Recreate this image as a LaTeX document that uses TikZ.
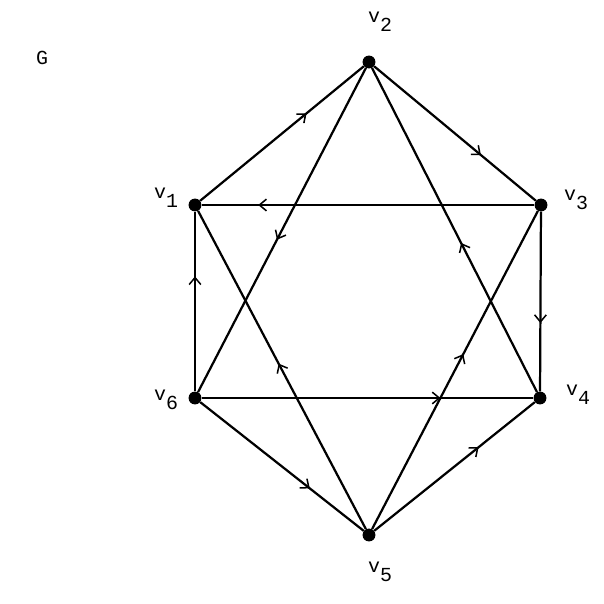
\documentclass[tikz,border=0pt]{standalone}
\usepackage{fontspec}
\setmonofont{Liberation Mono}
\usetikzlibrary{arrows.meta,decorations.markings}
\tikzset{
  vtx/.style={circle,fill=black,inner sep=0pt,minimum size=11pt},
  lbl/.style={font=\ttfamily\fontsize{17}{19}\selectfont,inner sep=0pt},
  edge/.style={line width=1.9pt},
  midarr/.style={postaction={decorate},decoration={markings,
    mark=at position #1 with {\arrow{Straight Barb[length=6pt,width=10pt,line width=1.3pt]}}}}
}
\begin{document}
\begin{tikzpicture}[x=0.03cm,y=-0.03cm]
\useasboundingbox (0,0) rectangle (603,604);
\node[vtx] (v2) at (369,62) {};
\node[vtx] (v1) at (195,205) {};
\node[vtx] (v3) at (541,205) {};
\node[vtx] (v6) at (195,398) {};
\node[vtx] (v4) at (540,398) {};
\node[vtx] (v5) at (369,535) {};
\node[lbl] (g) at (42,58) {G};
\node[lbl] (l2) at (380,22) {v\raisebox{-0.45em}{2}};
\node[lbl] (l1) at (166,198) {v\raisebox{-0.45em}{1}};
\node[lbl] (l3) at (576,200) {v\raisebox{-0.45em}{3}};
\node[lbl] (l4) at (578,395) {v\raisebox{-0.45em}{4}};
\node[lbl] (l6) at (166,400) {v\raisebox{-0.45em}{6}};
\node[lbl] (l5) at (380,572) {v\raisebox{-0.45em}{5}};
\draw[edge,midarr=0.65] (v1) -- (v2);
\draw[edge,midarr=0.66] (v2) -- (v3);
\draw[edge,midarr=0.83] (v3) -- (v1);
\draw[edge,midarr=0.62] (v3) -- (v4);
\draw[edge,midarr=0.64] (v6) -- (v1);
\draw[edge,midarr=0.72] (v6) -- (v4);
\draw[edge,midarr=0.67] (v6) -- (v5);
\draw[edge,midarr=0.65] (v5) -- (v4);
\draw[edge,midarr=0.53] (v2) -- (v6);
\draw[edge,midarr=0.46] (v4) -- (v2);
\draw[edge,midarr=0.52] (v5) -- (v1);
\draw[edge,midarr=0.55] (v5) -- (v3);
\end{tikzpicture}
\end{document}
